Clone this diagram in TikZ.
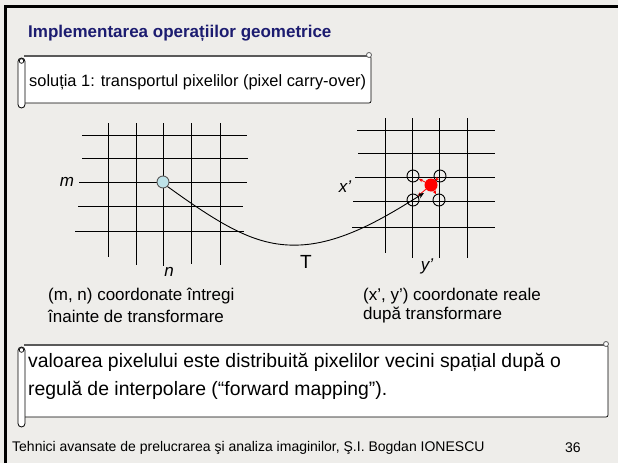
\documentclass[tikz,border=0pt]{standalone}
\usepackage{fontspec}
\setmainfont{Liberation Sans}
\usetikzlibrary{arrows.meta}
\definecolor{bg}{RGB}{238,237,234}
\definecolor{navy}{RGB}{28,28,112}
\definecolor{pblue}{RGB}{190,226,232}
\definecolor{rollgray}{RGB}{90,90,90}
\begin{document}
\begin{tikzpicture}[x=1pt,y=-1pt,
  gridline/.style={line width=0.9pt,black},
  lbl/.style={inner sep=0pt,font=\fontsize{17}{19}\selectfont},
  ilbl/.style={inner sep=0pt,font=\fontsize{17}{19}\selectfont\itshape},
  scrollbody/.style={fill=white,draw=black,line width=0.7pt},
  rollline/.style={draw=rollgray,line width=1.3pt},
  pix/.style={circle,draw=black,line width=0.9pt,minimum size=12pt,inner sep=0pt},
  redarr/.style={red,line width=0.8pt,-{Stealth[length=4pt,width=3.5pt]}}]
\path[fill=bg] (0,0) rectangle (618,463);
\useasboundingbox (0,0) rectangle (618,463);
% frame
\draw[line width=3pt] (5.5,463) -- (5.5,6) -- (618,6);
% title
\node[anchor=west,inner sep=0pt,text=navy,font=\fontsize{17}{20}\selectfont\bfseries] (title) at (28,33) {Implementarea operațiilor geometrice};
% scroll 1
\draw[scrollbody,rounded corners=2pt] (24,56) -- (371,56) -- (371,103) -- (24,103);
\draw[rollline] (24,56) -- (368,56);
\draw[draw=rollgray,line width=0.8pt,fill=white] (369,55) circle (2.5pt);
\draw[draw=black,line width=0.8pt,fill=white,rounded corners=3.5pt] (18,58) rectangle (25,108);
\draw[draw=black,line width=0.7pt,fill=white] (21.5,61) circle (2.3pt);
\node[anchor=west,inner sep=0pt,font=\fontsize{16.4}{19}\selectfont] (s1) at (29,82) {soluția 1: transportul pixelilor (pixel carry-over)};
% left grid
\foreach \y/\a/\b in {135/82/247,158/82/248,182/79/247,206/78/243,231/75/244}
  \draw[gridline] (\a,\y) -- (\b,\y);
\foreach \x/\b in {108/257,136/265,163/266,191/264,220/265}
  \draw[gridline] (\x,123) -- (\x,\b);
% right grid
\foreach \y/\a in {130/357,153/358,177/355,201/353,227/352}
  \draw[gridline] (\a,\y) -- (495,\y);
\foreach \x/\b in {385/253,412/258,439/258,467/258}
  \draw[gridline] (\x,118) -- (\x,\b);
% pixels
\node[pix,fill=pblue,draw=rollgray,minimum size=12pt] (c) at (163,182) {};
\node[pix] (p1) at (413,176) {};
\node[pix] (p2) at (440,176) {};
\node[pix] (p3) at (413,200) {};
\node[pix] (p4) at (439,200) {};
\node[circle,fill=red,minimum size=13pt,inner sep=0pt] (r) at (431,185) {};
\foreach \p in {p1,p2,p3,p4}
  \draw[redarr] (r) -- (\p);
% transform curve
\coordinate (tip) at (424,193);
\draw[line width=0.9pt,-{Stealth[length=6pt,width=5pt]}] (c.south east) .. controls (225,228) and (258,247) .. (300,245) .. controls (345,243) and (390,214) .. (tip);
\node[inner sep=0pt,font=\fontsize{19}{22}\selectfont] (T) at (306,262) {T};
% labels
\node[ilbl] (m) at (67,182) {m};
\node[ilbl] (n) at (169,272) {n};
\node[ilbl] (xp) at (345,187) {x’};
\node[ilbl] (yp) at (427,266) {y’};
\node[lbl,anchor=west] (cap1a) at (48,296) {(m, n) coordonate întregi};
\node[lbl,anchor=west] (cap1b) at (48,316) {înainte de transformare};
\node[lbl,anchor=west] (cap2a) at (363,296) {(x’, y’) coordonate reale};
\node[lbl,anchor=west] (cap2b) at (363,315) {după transformare};
% scroll 2
\draw[scrollbody,rounded corners=2pt] (24,345) -- (608,345) -- (608,417) -- (24,417);
\draw[rollline] (24,345) -- (605,345);
\draw[draw=rollgray,line width=0.8pt,fill=white] (606,344) circle (2.5pt);
\draw[draw=black,line width=0.8pt,fill=white,rounded corners=3.5pt] (18,347) rectangle (25,427);
\draw[draw=black,line width=0.7pt,fill=white] (21.5,350) circle (2.3pt);
\node[anchor=west,inner sep=0pt,font=\fontsize{19.4}{23}\selectfont] (s2a) at (28,362) {valoarea pixelului este distribuită pixelilor vecini spațial după o};
\node[anchor=west,inner sep=0pt,font=\fontsize{19.4}{23}\selectfont] (s2b) at (28,390) {regulă de interpolare (“forward mapping”).};
% footer
\node[anchor=west,inner sep=0pt,font=\fontsize{14}{16}\selectfont] (foot) at (12,448) {Tehnici avansate de prelucrarea şi analiza imaginilor, Ş.I. Bogdan IONESCU};
\node[anchor=west,inner sep=0pt,font=\fontsize{14}{16}\selectfont] (num) at (565,448) {36};
\end{tikzpicture}
\end{document}
